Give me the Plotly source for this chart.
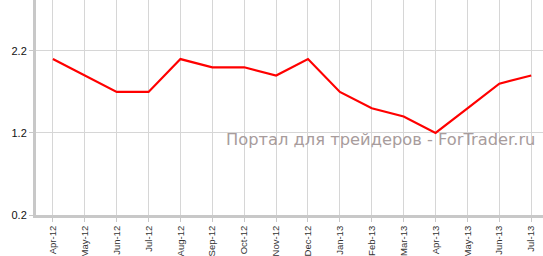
import plotly.graph_objects as go

months = ["Apr-12", "May-12", "Jun-12", "Jul-12", "Aug-12", "Sep-12", "Oct-12", "Nov-12",
          "Dec-12", "Jan-13", "Feb-13", "Mar-13", "Apr-13", "May-13", "Jun-13", "Jul-13"]
values = [2.1, 1.9, 1.7, 1.7, 2.1, 2.0, 2.0, 1.9, 2.1, 1.7, 1.5, 1.4, 1.2, 1.5, 1.8, 1.9]
y_ticks = [0.2, 1.2, 2.2]

fig = go.Figure()
fig.add_trace(go.Scatter(
    x=list(range(len(months))), y=values, mode="lines",
    line=dict(color="#ff0000", width=2.2), hoverinfo="skip"))

fig.update_layout(
    width=543, height=256,
    margin=dict(l=36, r=0, t=0, b=41),
    paper_bgcolor="white", plot_bgcolor="white",
    showlegend=False,
    font=dict(family="Liberation Sans, Arial", size=10, color="#222"),
)
fig.update_xaxes(
    range=[-0.53, 15.37],
    tickmode="array", tickvals=list(range(len(months))), ticktext=months,
    tickangle=-90, tickfont=dict(size=9.5, color="#333"),
    showgrid=True, gridcolor="#d6d6d6", gridwidth=1,
    showline=True, linecolor="#c8c8c8", linewidth=3,
    ticks="outside", ticklen=4, tickcolor="#c8c8c8", zeroline=False,
)
fig.update_yaxes(
    range=[0.2, 2.82],
    tickmode="array", tickvals=y_ticks, ticktext=["0.2", "1.2", "2.2"],
    tickfont=dict(size=11, color="#111"),
    showgrid=True, gridcolor="#d6d6d6", gridwidth=1,
    showline=True, linecolor="#c8c8c8", linewidth=3,
    ticks="outside", ticklen=4, tickcolor="#c8c8c8", zeroline=False,
)
fig.add_annotation(
    x=(537 - 36) / (543 - 36), y=1 - 139 / 215, xref="paper", yref="paper",
    text="Портал для трейдеров - ForTrader.ru",
    showarrow=False, xanchor="right", yanchor="middle",
    font=dict(family="DejaVu Sans", size=16.3, color="#a89c9c"),
)

fig.write_html("out.html")
